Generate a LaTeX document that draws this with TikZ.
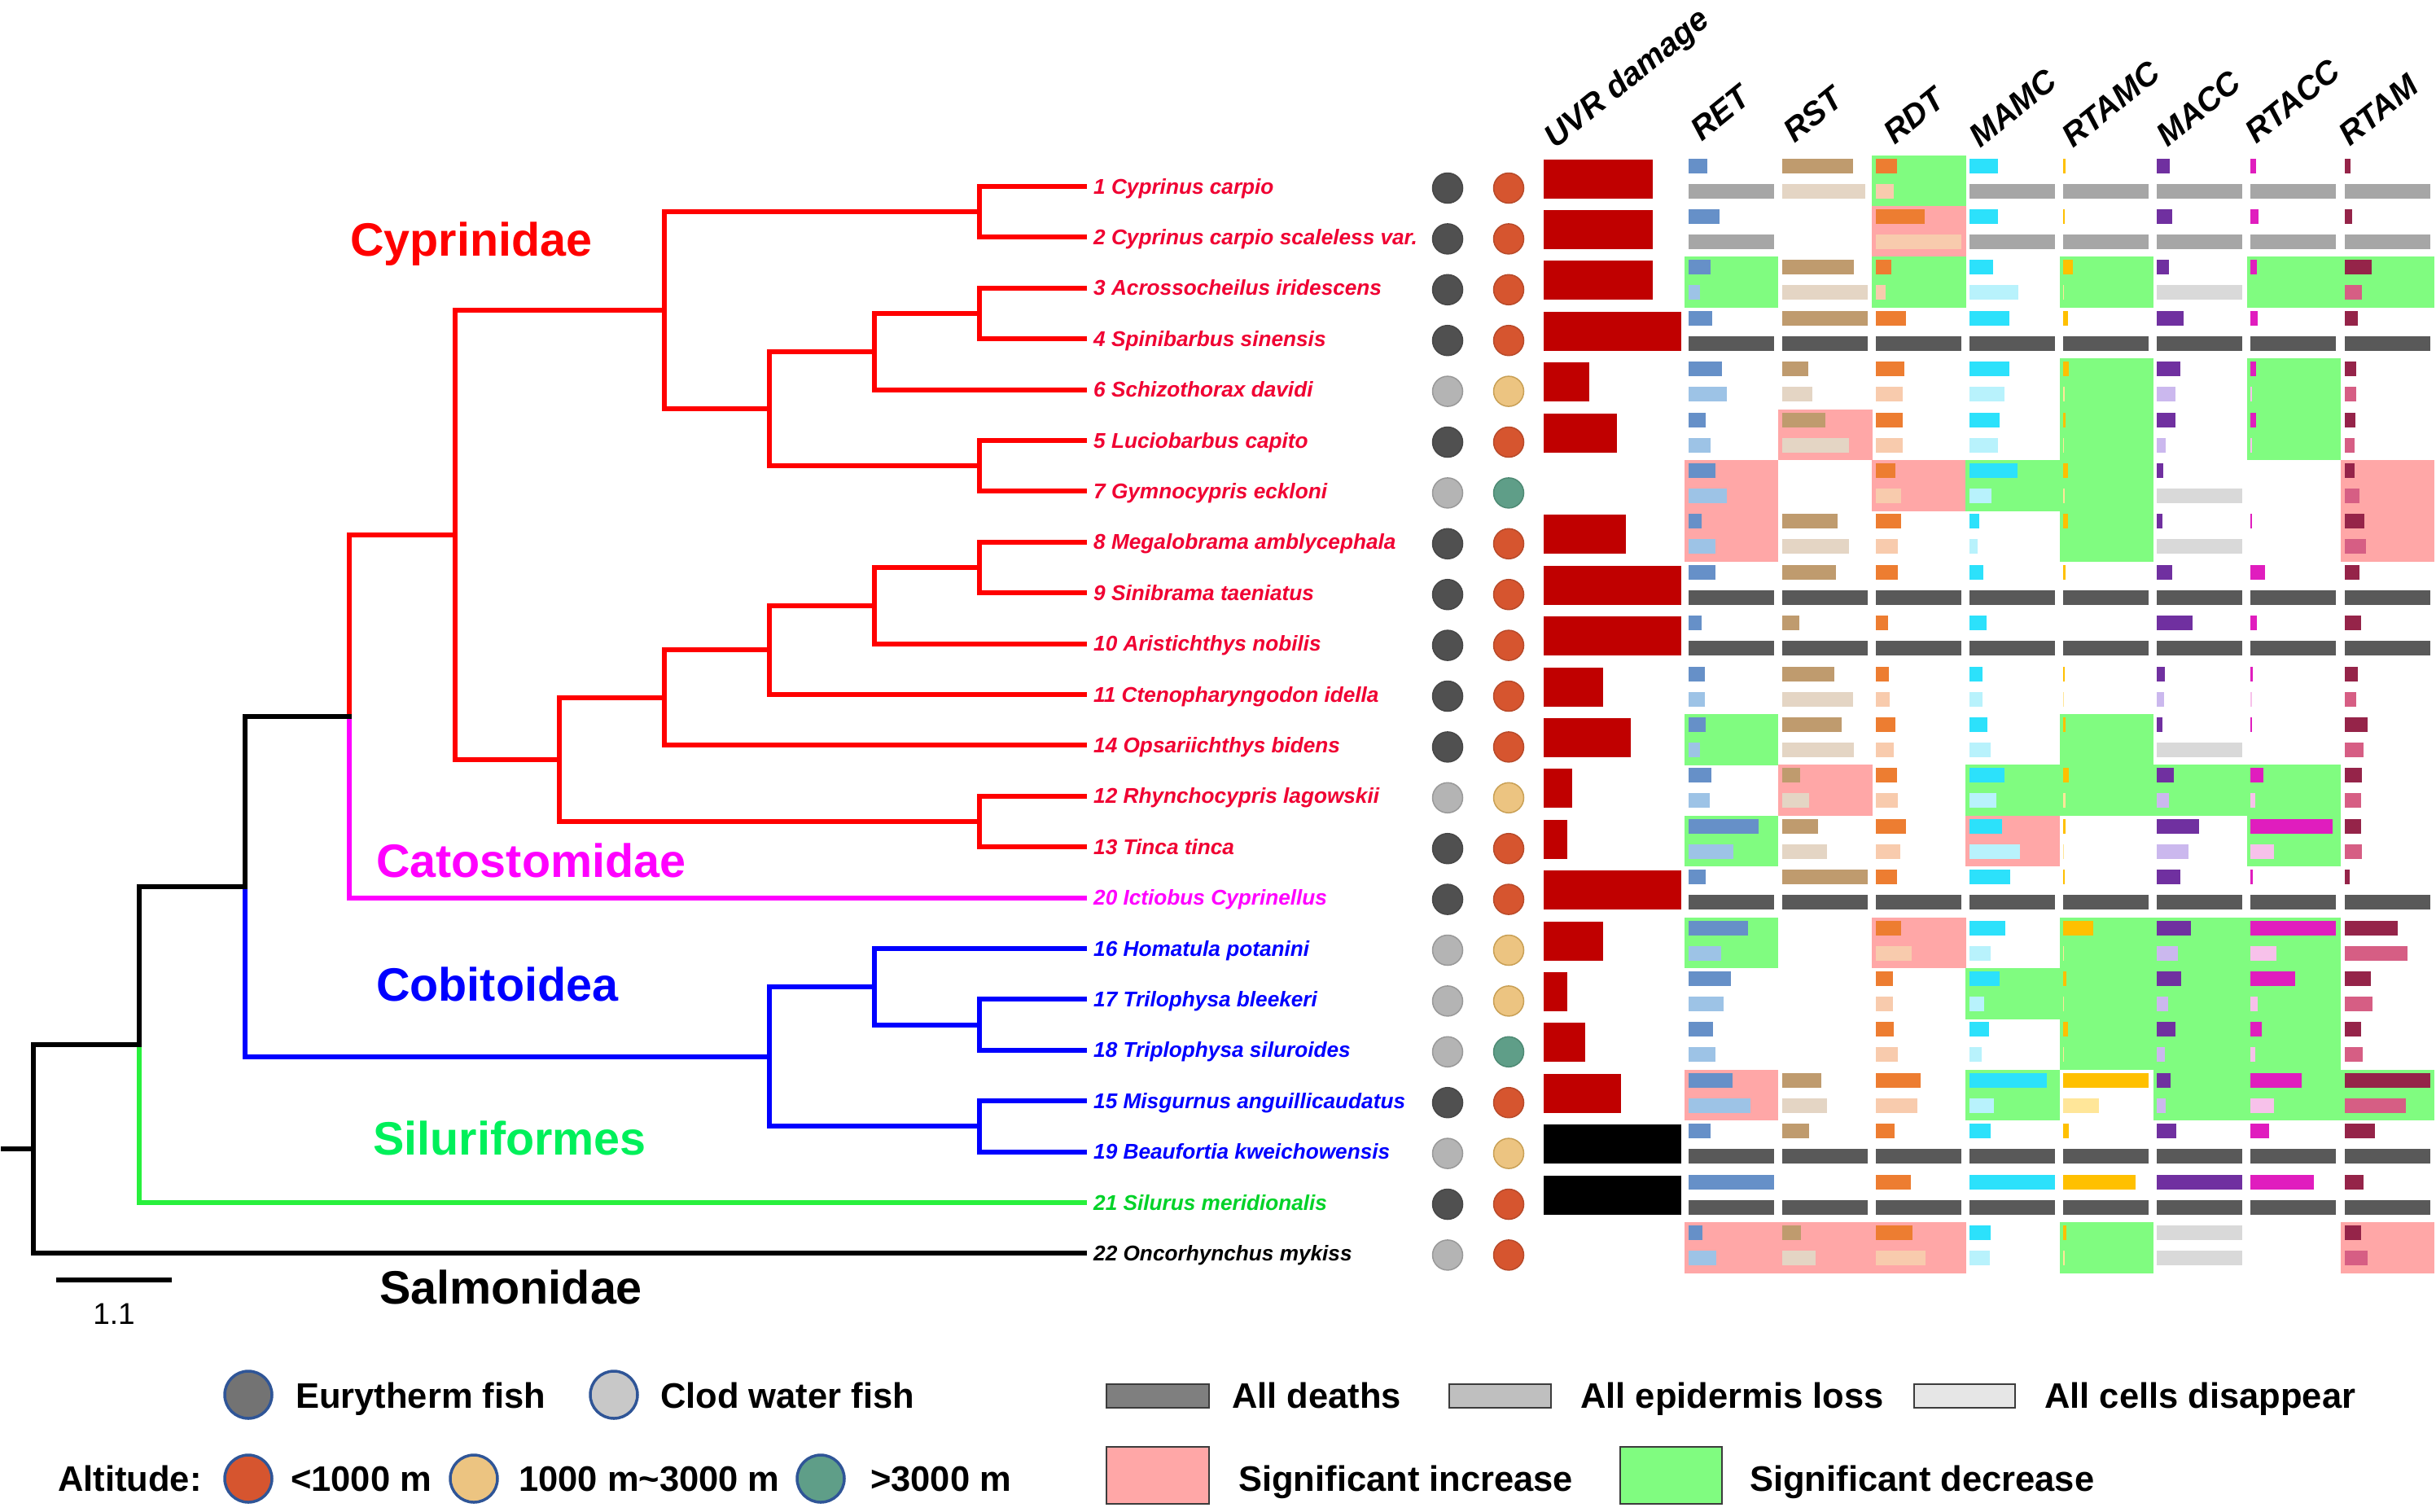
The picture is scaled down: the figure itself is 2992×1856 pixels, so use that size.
\documentclass[tikz,border=0pt]{standalone}
\usepackage{fontspec}
\setmainfont{Liberation Sans}
\newcommand\fsz[1]{\fontsize{#1}{#1}\selectfont}
\definecolor{topc0}{HTML}{6690C8}\definecolor{botc0}{HTML}{9DC3E6}
\definecolor{topc1}{HTML}{BF9B6E}\definecolor{botc1}{HTML}{E4D5C4}
\definecolor{topc2}{HTML}{ED7D31}\definecolor{botc2}{HTML}{F8CBAD}
\definecolor{topc3}{HTML}{2CE1FB}\definecolor{botc3}{HTML}{B8F2FC}
\definecolor{topc4}{HTML}{FFC000}\definecolor{botc4}{HTML}{FFE699}
\definecolor{topc5}{HTML}{7030A0}\definecolor{botc5}{HTML}{CBB8EE}
\definecolor{topc6}{HTML}{E01DBE}\definecolor{botc6}{HTML}{F7C1EA}
\definecolor{topc7}{HTML}{952449}\definecolor{botc7}{HTML}{D65E84}
\definecolor{gD}{HTML}{595959}\definecolor{gE}{HTML}{A6A6A6}\definecolor{gC}{HTML}{D9D9D9}
\definecolor{hlp}{HTML}{FFA7A7}\definecolor{hlg}{HTML}{80FC80}
\definecolor{uvr}{HTML}{C00000}\definecolor{uvk}{HTML}{000000}
\definecolor{fdk}{HTML}{505050}\definecolor{fdkb}{HTML}{474747}
\definecolor{flt}{HTML}{B4B4B4}\definecolor{fltb}{HTML}{999999}
\definecolor{aor}{HTML}{D6552F}\definecolor{aorb}{HTML}{B84A2A}
\definecolor{atn}{HTML}{ECC481}\definecolor{atnb}{HTML}{C9A055}
\definecolor{atl}{HTML}{5F9E88}\definecolor{atlb}{HTML}{4E8A74}
\definecolor{cR}{RGB}{255,0,0}\definecolor{lR}{RGB}{240,0,50}
\definecolor{cM}{RGB}{255,0,255}\definecolor{cB}{RGB}{0,0,255}
\definecolor{cG}{RGB}{40,240,60}\definecolor{lG}{RGB}{0,210,40}\definecolor{tG}{RGB}{0,240,90}
\definecolor{cK}{RGB}{0,0,0}
\definecolor{legb}{HTML}{2F5597}
\newcommand\databars[2]{%
  \foreach \t/\b [count=\k from 0] in {#2}{%
    \pgfmathsetmacro\xl{2073.5+115.15*\k}%
    \pgfmathsetmacro\yt{190.5+(#1-1)*62.4}%
    \ifdim\t pt>0pt \fill[fill=topc\k] (\xl,\yt+4) rectangle +(\t,18);\fi
    \ifdim\t pt<-2.5pt \fill[fill=gC] (\xl,\yt+4) rectangle +(105,18);\fi
    \ifdim\b pt>0pt \fill[fill=botc\k] (\xl,\yt+35) rectangle +(\b,18);\fi
    \ifdim\b pt=-1pt \fill[fill=gD] (\xl,\yt+35) rectangle +(105,18);\fi
    \ifdim\b pt=-2pt \fill[fill=gE] (\xl,\yt+35) rectangle +(105,18);\fi
    \ifdim\b pt=-3pt \fill[fill=gC] (\xl,\yt+35) rectangle +(105,18);\fi
  }}
\begin{document}
\begin{tikzpicture}[x=1pt,y=-1pt,line cap=rect,
  br/.style={line width=6pt},
  leaf/.style={anchor=base west,inner sep=0pt,font=\fsz{26.2}\bfseries\itshape},
  hdr/.style={anchor=base west,inner sep=0pt,rotate=39,font=\fsz{40}\bfseries\itshape},
  clade/.style={anchor=base west,inner sep=0pt,font=\fsz{57.5}\bfseries},
  leg/.style={anchor=base west,inner sep=0pt,font=\fsz{43.5}\bfseries},
  dot/.style={circle,inner sep=0pt,minimum size=37pt,line width=1.5pt},
  legdot/.style={circle,inner sep=0pt,minimum size=58pt,line width=3.5pt,draw=legb},
  legbox/.style={draw={rgb,255:red,60;green,60;blue,60},line width=2.5pt,line cap=butt}]
\useasboundingbox (0,0) rectangle (2992,1856);
\fill[white] (0,0) rectangle (2992,1856);

% ---------- tree ----------
\coordinate (root) at (4,1411.1);
\coordinate (A) at (41,1411.1);
\coordinate (B) at (171,1282.9);
\coordinate (C) at (301,1088.7);
\coordinate (D) at (429,879.8);
\coordinate (E) at (559,657.0);
\coordinate (L) at (687,932.95);
\coordinate (F) at (816,381.1);
\coordinate (M) at (816,856.9);
\coordinate (H) at (945,502);
\coordinate (N) at (945,798.4);
\coordinate (R) at (945,1297.6);
\coordinate (I) at (1074,431.8);
\coordinate (O) at (1074,743.8);
\coordinate (S) at (1074,1211.8);
\coordinate (G) at (1203,260.2);
\coordinate (J) at (1203,385);
\coordinate (K) at (1203,572.2);
\coordinate (P) at (1203,697);
\coordinate (Q) at (1203,1009);
\coordinate (T) at (1203,1258.6);
\coordinate (U) at (1203,1383.4);
\foreach \r in {1,...,22} \coordinate (t\r) at (1332,{229+(\r-1)*62.4});

\foreach \a/\b in {D/E,E/F,E/L,F/G,F/H,G/t1,G/t2,H/I,H/K,I/J,I/t5,J/t3,J/t4,K/t6,K/t7,
  L/M,L/Q,M/N,M/t12,N/O,N/t11,O/P,O/t10,P/t8,P/t9,Q/t13,Q/t14}
  \draw[br,cR] (\a) |- (\b);
\draw[br,cM] (D) |- (t15);
\foreach \a/\b in {C/R,R/S,R/U,S/t16,S/T,T/t17,T/t18,U/t19,U/t20}
  \draw[br,cB] (\a) |- (\b);
\draw[br,cG] (B) |- (t21);
\draw[br,cK] (root) -- (A);
\foreach \a/\b in {A/B,A/t22,B/C,C/D}
  \draw[br,cK] (\a) |- (\b);

% scale bar
\coordinate (sb1) at (69,1572);
\coordinate (sb2) at (211,1572);
\draw[br,cK,line cap=butt] (sb1) -- (sb2);
\node[anchor=base,inner sep=0pt,font=\fsz{37}] (sbl) at (140,1626) {1.1};

% clade names
\node[clade,text=cR] (nCyp) at (430,314) {Cyprinidae};
\node[clade,text=cM] (nCat) at (462,1077) {Catostomidae};
\node[clade,text=cB] (nCob) at (462,1229) {Cobitoidea};
\node[clade,text=tG] (nSil) at (458,1418) {Siluriformes};
\node[clade,text=cK] (nSal) at (466,1601) {Salmonidae};

% leaf labels
\foreach \r/\txt/\c in {
 1/1 Cyprinus carpio/lR,
 2/2 Cyprinus carpio scaleless var./lR,
 3/3 Acrossocheilus iridescens/lR,
 4/4 Spinibarbus sinensis/lR,
 5/6 Schizothorax davidi/lR,
 6/5 Luciobarbus capito/lR,
 7/7 Gymnocypris eckloni/lR,
 8/8 Megalobrama amblycephala/lR,
 9/9 Sinibrama taeniatus/lR,
 10/10 Aristichthys nobilis/lR,
 11/11 Ctenopharyngodon idella/lR,
 12/14 Opsariichthys bidens/lR,
 13/12 Rhynchocypris lagowskii/lR,
 14/13 Tinca tinca/lR,
 15/20 Ictiobus Cyprinellus/cM,
 16/16 Homatula potanini/cB,
 17/17 Trilophysa bleekeri/cB,
 18/18 Triplophysa siluroides/cB,
 19/15 Misgurnus anguillicaudatus/cB,
 20/19 Beaufortia kweichowensis/cB,
 21/21 Silurus meridionalis/lG,
 22/22 Oncorhynchus mykiss/cK}
 \node[leaf,text=\c] (lab\r) at (1343,{238+(\r-1)*62.4}) {\txt};

% circles
\foreach \r/\f/\a in {1/fdk/aor,2/fdk/aor,3/fdk/aor,4/fdk/aor,5/flt/atn,6/fdk/aor,7/flt/atl,
 8/fdk/aor,9/fdk/aor,10/fdk/aor,11/fdk/aor,12/fdk/aor,13/flt/atn,14/fdk/aor,15/fdk/aor,
 16/flt/atn,17/flt/atn,18/flt/atl,19/fdk/aor,20/flt/atn,21/fdk/aor,22/flt/aor}{
 \node[dot,fill=\f,draw=\f b] (fa\r) at (1778,{231+(\r-1)*62.4}) {};
 \node[dot,fill=\a,draw=\a b] (al\r) at (1853,{231+(\r-1)*62.4}) {};
}

% UVR damage bars
\foreach \r/\w/\c in {1/134/uvr,2/134/uvr,3/134/uvr,4/169/uvr,5/56/uvr,6/90/uvr,7/0/uvr,
 8/101/uvr,9/169/uvr,10/169/uvr,11/73/uvr,12/107/uvr,13/35/uvr,14/29/uvr,15/169/uvr,
 16/73/uvr,17/29/uvr,18/51/uvr,19/95/uvr,20/169/uvk,21/169/uvk,22/0/uvr}{
 \ifdim\w pt>0pt \fill[fill=\c] (1896,{195.5+(\r-1)*62.4}) rectangle +(\w,48);\fi
}

% significance highlights
\foreach \r/\c/\h in {3/0/g,7/0/p,8/0/p,12/0/g,14/0/g,16/0/g,19/0/p,22/0/p,
 6/1/p,13/1/p,22/1/p,
 1/2/g,2/2/p,3/2/g,7/2/p,16/2/p,22/2/p,
 7/3/g,13/3/g,14/3/p,17/3/g,19/3/g,
 3/4/g,5/4/g,6/4/g,7/4/g,8/4/g,12/4/g,13/4/g,16/4/g,17/4/g,18/4/g,22/4/g,
 13/5/g,16/5/g,17/5/g,18/5/g,19/5/g,
 3/6/g,5/6/g,6/6/g,13/6/g,14/6/g,16/6/g,17/6/g,18/6/g,19/6/g,
 3/7/g,7/7/p,8/7/p,19/7/g,22/7/p}
 \fill[fill=hl\h] ({2069+115.15*\c},{190.5+(\r-1)*62.4}) rectangle +(115.4,62.6);

% data bars: RET RST RDT MAMC RTAMC MACC RTACC RTAM  (top/bottom; -1 deaths, -2 epidermis loss, -3 cells disappear)
\databars{1}{23/-2,87/102,26/22,35/-2,2.5/-2,16/-2,7/-2,7/-2}
\databars{2}{38/-2,0/0,60/105,35/-2,2/-2,19/-2,10/-2,9/-2}
\databars{3}{27/14,88/105,19/12,29/60,12/1,15/-3,8/0,33/21}
\databars{4}{29/-1,105/-1,37/-1,49/-1,6/-1,33/-1,9/-1,16/-1}
\databars{5}{41/47,32/37,35/33,49/43,7/2,29/23,7/2,14/14}
\databars{6}{21/27,53/82,33/33,37/35,3/1,23/11,7/2,13/12}
\databars{7}{33/47,0/0,24/31,59/27,6/2,8/-3,0/0,12/18}
\databars{8}{16/33,68/82,31/27,12/10,6/0,7/-3,2/0,24/26}
\databars{9}{33/-1,66/-1,27/-1,17/-1,3/-1,19/-1,18/-1,18/-1}
\databars{10}{16/-1,21/-1,15/-1,21/-1,0/-1,44/-1,8/-1,20/-1}
\databars{11}{20/20,64/87,16/17,16/16,2/1,10/9,3/2,16/14}
\databars{12}{21/14,73/88,24/22,22/26,3/0,7/-3,2/0,28/23}
\databars{13}{28/26,22/33,26/27,43/33,7/3,21/15,16/6,21/20}
\databars{14}{86/55,44/55,37/30,40/62,3/1,52/39,101/29,20/21}
\databars{15}{21/-1,105/-1,26/-1,50/-1,2/-1,29/-1,3/-1,6/-1}
\databars{16}{73/40,0/0,31/44,44/26,37/1,42/26,105/32,65/77}
\databars{17}{52/43,0/0,21/21,37/18,4/1,30/14,55/9,32/34}
\databars{18}{30/33,0/0,22/27,24/15,6/1,23/10,14/6,20/22}
\databars{19}{54/76,48/55,55/51,95/30,105/44,17/11,63/29,105/75}
\databars{20}{27/-1,33/-1,23/-1,26/-1,7/-1,24/-1,23/-1,37/-1}
\databars{21}{105/-1,0/-1,43/-1,105/-1,89/-1,105/-1,78/-1,23/-1}
\databars{22}{17/34,23/41,45/61,26/25,4/2,-3/-3,0/0,20/28}

% headers
\node[hdr] (hUVR) at (1910,184) {UVR damage};
\node[hdr] (hRET) at (2090,175) {RET};
\node[hdr] (hRST) at (2204,177) {RST};
\node[hdr] (hRDT) at (2327,179) {RDT};
\node[hdr] (hMAMC) at (2432,183) {MAMC};
\node[hdr] (hRTAMC) at (2546,183) {RTAMC};
\node[hdr] (hMACC) at (2662,182) {MACC};
\node[hdr] (hRTACC) at (2771,178) {RTACC};
\node[hdr] (hRTAM) at (2886,181) {RTAM};

% legend
\node[legdot,fill={rgb,255:red,115;green,115;blue,115}] (lgE) at (305,1713) {};
\node[leg] (lgEt) at (363,1729) {Eurytherm fish};
\node[legdot,fill={rgb,255:red,200;green,200;blue,200}] (lgC) at (754,1713) {};
\node[leg] (lgCt) at (811,1729) {Clod water fish};
\node[leg] (lgAlt) at (71,1831) {Altitude:};
\node[legdot,fill=aor] (lgO) at (305,1816) {};
\node[leg] (lgOt) at (357,1831) {<1000 m};
\node[legdot,fill=atn] (lgT) at (582,1816) {};
\node[leg] (lgTt) at (637,1831) {1000 m\textasciitilde3000 m};
\node[legdot,fill=atl] (lgG) at (1008,1816) {};
\node[leg] (lgGt) at (1069,1831) {>3000 m};
\draw[legbox,fill={rgb,255:red,127;green,127;blue,127}] (1359,1700) rectangle (1485,1729);
\node[leg] (lgDt) at (1513,1729) {All deaths};
\draw[legbox,fill={rgb,255:red,191;green,191;blue,191}] (1780,1700) rectangle (1905,1729);
\node[leg] (lgLt) at (1941,1729) {All epidermis loss};
\draw[legbox,fill={rgb,255:red,230;green,230;blue,230}] (2351,1700) rectangle (2475,1729);
\node[leg] (lgXt) at (2511,1729) {All cells disappear};
\draw[legbox,fill=hlp] (1359,1777) rectangle (1485,1847);
\node[leg] (lgPt) at (1521,1831) {Significant increase};
\draw[legbox,fill=hlg] (1990,1777) rectangle (2115,1847);
\node[leg] (lgGrt) at (2149,1831) {Significant decrease};
\end{tikzpicture}
\end{document}
